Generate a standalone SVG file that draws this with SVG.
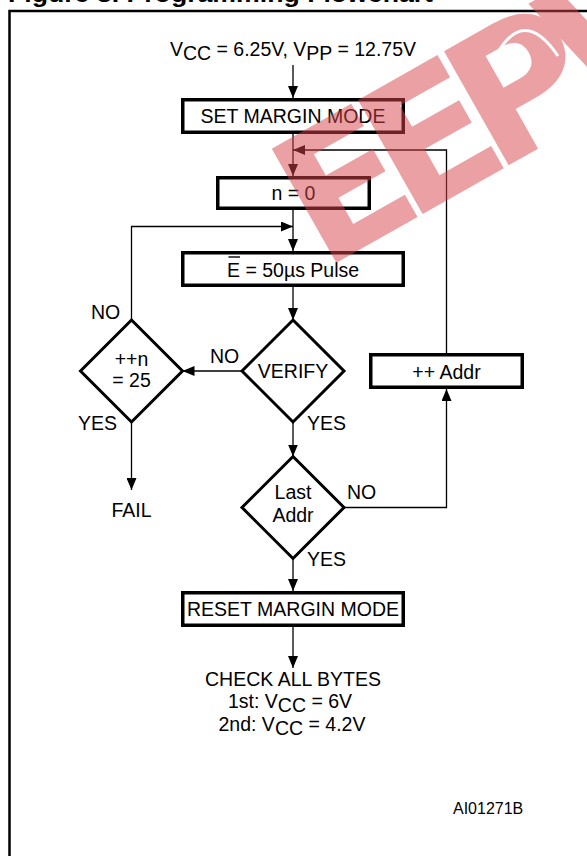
<svg xmlns="http://www.w3.org/2000/svg" width="587" height="856" viewBox="0 0 587 856">
<defs>
<marker id="ah" viewBox="0 0 12 10" refX="12" refY="5" markerWidth="12" markerHeight="10" markerUnits="userSpaceOnUse" orient="auto"><path d="M0,0 L12,5 L0,10 z" fill="#000"/></marker>
<style>
text{font-family:"Liberation Sans",Arial,sans-serif;font-size:19.5px;fill:#000}
.box{fill:#fff;stroke:#000;stroke-width:3.5}
.dia{fill:#fff;stroke:#000;stroke-width:3}
.c{fill:none;stroke:#000;stroke-width:1.3}
.c path,.c line,.c polyline{marker-end:url(#ah)}
.m{text-anchor:middle}
</style>
</defs>
<rect width="587" height="856" fill="#fff"/>
<text x="8" y="1.5" style="font-weight:bold;font-size:24px" textLength="425" lengthAdjust="spacingAndGlyphs">Figure 8. Programming Flowchart</text>
<rect x="9.5" y="11" width="620" height="900" fill="none" stroke="#000" stroke-width="2.5"/>

<g id="supply"><text class="m" x="293" y="55.5">V<tspan dy="4">CC</tspan><tspan dy="-4"> = 6.25V, V</tspan><tspan dy="4">PP</tspan><tspan dy="-4"> = 12.75V</tspan></text></g>

<g class="c" id="connectors">
<line x1="293" y1="65" x2="293" y2="98"/>
<line x1="293" y1="134" x2="293" y2="176"/>
<polyline points="446.5,353 446.5,150 293,150"/>
<line x1="293" y1="210" x2="293" y2="251"/>
<polyline points="131.5,320 131.5,226.5 293,226.5"/>
<line x1="293" y1="287" x2="293" y2="320"/>
<line x1="242" y1="371" x2="182.5" y2="371"/>
<line x1="131.5" y1="422" x2="131.5" y2="490"/>
<line x1="293" y1="422" x2="293" y2="456.5"/>
<polyline points="344,507.5 446.5,507.5 446.5,389"/>
<line x1="293" y1="558.5" x2="293" y2="591"/>
<line x1="293" y1="627" x2="293" y2="668"/>
</g>

<g id="set-margin"><rect class="box" x="182.75" y="99.75" width="220.5" height="32.5"/><text class="m" x="293" y="123">SET MARGIN MODE</text></g>
<g id="n0"><rect class="box" x="217.75" y="177.75" width="151.5" height="30.5"/><text class="m" x="293.5" y="200">n = 0</text></g>
<g id="pulse"><rect class="box" x="182.75" y="252.75" width="220.5" height="32.5"/><text x="227" y="277">E = 50µs Pulse</text><line x1="228.5" y1="257" x2="240" y2="257" stroke="#000" stroke-width="1.4"/></g>
<g id="verify"><polygon class="dia" points="293,320 344,371 293,422 242,371"/><text class="m" x="293" y="378">VERIFY</text></g>
<g id="count"><polygon class="dia" points="131.5,320 182.5,371 131.5,422 80.5,371"/><text class="m" x="131.5" y="366">++n</text><text class="m" x="131.5" y="387">= 25</text></g>
<g id="addr-inc"><rect class="box" x="370.75" y="354.75" width="151.5" height="32.5"/><text class="m" x="446.5" y="379">++ Addr</text></g>
<g id="last-addr"><polygon class="dia" points="293,456.5 344,507.5 293,558.5 242,507.5"/><text class="m" x="293" y="499">Last</text><text class="m" x="293" y="522">Addr</text></g>
<g id="reset-margin"><rect class="box" x="182.75" y="592.75" width="220.5" height="32.5"/><text class="m" x="293" y="616">RESET MARGIN MODE</text></g>
<g id="fail"><text class="m" x="131.5" y="517">FAIL</text></g>
<g id="check"><text class="m" x="293" y="686">CHECK ALL BYTES</text><text x="228" y="708">1st: V<tspan dy="4">CC</tspan><tspan dy="-4"> = 6V</tspan></text><text x="218.5" y="731">2nd: V<tspan dy="4">CC</tspan><tspan dy="-4"> = 4.2V</tspan></text></g>

<g id="labels">
<text x="91" y="319">NO</text>
<text x="210" y="363">NO</text>
<text x="78" y="430">YES</text>
<text x="307" y="430">YES</text>
<text x="347" y="499">NO</text>
<text x="307" y="566">YES</text>
</g>
<text x="453" y="814" style="font-size:16px">AI01271B</text>

<g id="watermark" opacity="0.5"><text transform="translate(322,271) rotate(-29.5)" style="font-family:'DejaVu Sans',sans-serif;font-size:180px;font-weight:bold;fill:#d9444c;letter-spacing:-24px">EEPW</text></g>
<path d="M497,54 Q524,6 558,56" fill="none" stroke="#fff" stroke-width="3"/>
</svg>
